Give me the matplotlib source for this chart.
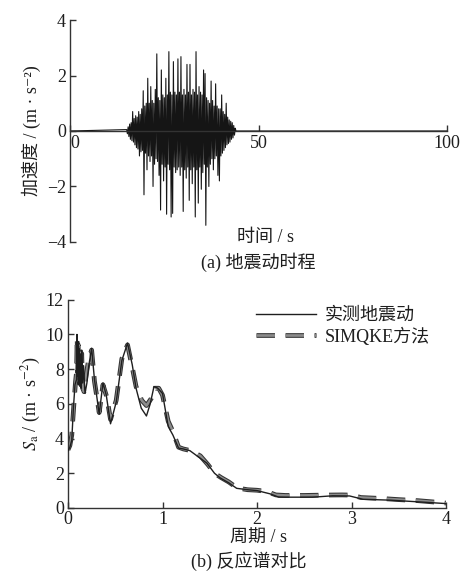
import numpy as np
import matplotlib
matplotlib.use('Agg')
import matplotlib.pyplot as plt
import matplotlib.patheffects as pe

plt.rcParams['font.family'] = ['Liberation Serif', 'Noto Sans CJK SC', 'DejaVu Serif']
plt.rcParams['mathtext.fontset'] = 'stix'
plt.rcParams['axes.unicode_minus'] = True

# --- (a) acceleration time history, samples every 0.2 s from 15 s to 44 s ---
burst_start, burst_dt = 15.0, 0.2
accel_burst = [
    0.05, -0.1, 0.15, -0.2, 0.25, -0.3, 0.3, -0.35, 0.7, -0.4,
    0.45, -0.5, 0.55, -0.6, 0.5, -0.65, 0.7, -0.9, 0.6, -0.75,
    0.8, -0.7, 1.45, -2.3, 0.9, -0.8, 1.0, -1.4, 1.9, -0.9,
    1.0, -1.1, 1.6, -0.9, 1.1, -2.0, 1.0, -1.2, 1.5, -1.0,
    2.78, -1.1, 1.2, -1.6, 1.1, -2.85, 2.2, -1.2, 1.3, -1.8,
    1.2, -1.3, 1.9, -3.0, 1.3, -1.2, 2.86, -1.4, 1.4, -3.1,
    1.3, -2.97, 2.5, -1.3, 1.4, -1.5, 1.3, -1.4, 2.6, -1.3,
    1.4, -1.6, 2.68, -1.3, 1.3, -2.9, 1.5, -1.4, 1.3, -1.7,
    2.4, -1.3, 1.4, -2.5, 2.4, -1.4, 1.3, -1.9, 1.5, -1.3,
    1.4, -3.1, 2.86, -1.4, 1.3, -2.6, 1.6, -1.3, 1.4, -2.1,
    1.3, -1.5, 2.2, -1.2, 2.07, -3.4, 1.2, -1.3, 1.1, -2.0,
    1.0, -1.2, 1.8, -1.0, 1.1, -1.4, 0.9, -1.0, 1.7, -0.9,
    0.9, -1.6, 0.8, -1.8, 0.8, -0.9, 1.3, -0.8, 0.7, -0.7,
    0.6, -0.6, 1.0, -0.5, 0.5, -0.45, 0.4, -0.4, 0.35, -0.3,
    0.3, -0.25, 0.2, -0.15, 0.1, 0.0,
]
t_burst = burst_start + burst_dt * np.arange(len(accel_burst))
t_hist = np.concatenate([[0.0], t_burst, [100.0]])
a_hist = np.concatenate([[0.0], accel_burst, [0.0]])

# --- (b) response spectra ---
T_meas = [0.0, 0.02, 0.04, 0.056, 0.074, 0.09, 0.095, 0.10, 0.105, 0.11, 0.115,
          0.12, 0.125, 0.13, 0.135, 0.14, 0.145, 0.155, 0.165, 0.18, 0.2,
          0.22, 0.25, 0.28, 0.33, 0.37, 0.405, 0.45, 0.51, 0.57, 0.63,
          0.68, 0.72, 0.775, 0.83, 0.87, 0.91, 0.95, 1.0, 1.06, 1.11,
          1.17, 1.22, 1.29, 1.39, 1.47, 1.55, 1.61, 1.7, 1.785, 1.9,
          2.0, 2.14, 2.23, 2.4, 2.59, 2.8, 2.98, 3.12, 3.4, 3.65, 3.8, 4.0]
Sa_meas = [3.3, 3.5, 3.9, 5.65, 7.1, 7.4, 10.0, 7.6, 9.6, 7.1, 9.2,
           7.3, 8.9, 7.0, 8.6, 6.9, 9.1, 7.2, 8.2, 6.6, 7.2,
           8.2, 9.2, 7.4, 5.4, 7.2, 6.5, 4.85, 6.1, 8.5, 9.5,
           8.25, 6.9, 5.75, 5.3, 6.0, 7.0, 6.9, 6.6, 4.7, 4.2,
           3.45, 3.4, 3.3, 2.9, 2.58, 2.0, 1.73, 1.45, 1.13, 1.05,
           1.0, 0.81, 0.62, 0.62, 0.62, 0.7, 0.69, 0.5, 0.45, 0.37, 0.32, 0.25]
T_sim = [0.0, 0.02, 0.04, 0.06, 0.08, 0.09, 0.097, 0.103, 0.108, 0.113, 0.118,
         0.124, 0.13, 0.137, 0.145, 0.155, 0.17, 0.19, 0.22, 0.25, 0.28,
         0.33, 0.37, 0.41, 0.45, 0.51, 0.57, 0.63, 0.68, 0.72, 0.78,
         0.83, 0.88, 0.92, 0.96, 1.0, 1.06, 1.11, 1.17, 1.22, 1.3,
         1.4, 1.48, 1.55, 1.62, 1.7, 1.79, 1.9, 2.0, 2.1, 2.2,
         2.3, 2.5, 2.7, 2.9, 3.0, 3.1, 3.3, 3.5, 3.7, 3.9, 4.0]
Sa_sim = [3.35, 3.6, 4.2, 5.8, 7.3, 7.8, 9.8, 7.8, 9.4, 7.3, 9.0,
          7.2, 8.7, 7.1, 8.9, 6.9, 6.7, 7.6, 8.6, 9.1, 7.3,
          5.5, 7.1, 6.4, 5.1, 6.2, 8.6, 9.4, 8.1, 7.0, 6.2,
          5.9, 6.3, 6.9, 6.9, 6.5, 5.0, 4.4, 3.5, 3.4, 3.3,
          3.0, 2.5, 2.0, 1.75, 1.5, 1.15, 1.05, 1.02, 0.95, 0.75,
          0.72, 0.72, 0.74, 0.75, 0.74, 0.6, 0.55, 0.48, 0.42, 0.33, 0.28]

fig = plt.figure(figsize=(4.61, 5.72), dpi=100)
ink = '#1e1e1e'
fs = 13

# ---------- (a) ----------
ax1 = fig.add_axes([0.152, 0.577, 0.818, 0.388])
ax1.plot(t_hist, a_hist, color='#151515', lw=0.8)
ax1.set_xlim(0, 100)
ax1.set_ylim(-4, 4)
ax1.spines['top'].set_visible(False)
ax1.spines['right'].set_visible(False)
ax1.spines['bottom'].set_position(('data', 0))
for s in ['left', 'bottom']:
    ax1.spines[s].set_color('#333333')
    ax1.spines[s].set_linewidth(1.0)
ax1.set_xticks([0, 50, 100])
ax1.set_yticks([-4, -2, 0, 2, 4])
ax1.tick_params(direction='in', length=4, width=1.0, colors='#333333',
                labelsize=fs, labelcolor=ink)
ax1.tick_params(axis='x', pad=3)
ax1.tick_params(axis='y', pad=3)
ax1.get_xticklabels()[0].set_horizontalalignment('left')
ax1.set_ylabel('加速度 / (m · s⁻²)', fontsize=fs, color=ink, labelpad=4)
fig.text(0.575, 0.584, '时间 / s', ha='center', va='center', fontsize=fs, color=ink)
fig.text(0.56, 0.542, '(a) 地震动时程', ha='center', va='center', fontsize=fs, color=ink)

# ---------- (b) ----------
ax2 = fig.add_axes([0.1475, 0.112, 0.820, 0.364])
ax2.plot(T_meas, Sa_meas, color=ink, lw=1.0, label='实测地震动', zorder=3)
ax2.plot(T_sim, Sa_sim, color='#8c8c8c', lw=1.9, linestyle=(0, (7, 4)),
         label='SIMQKE方法', zorder=2,
         path_effects=[pe.Stroke(linewidth=3.4, foreground='#333333'), pe.Normal()])
ax2.set_xlim(0, 4)
ax2.set_ylim(0, 12)
ax2.spines['top'].set_visible(False)
ax2.spines['right'].set_visible(False)
for s in ['left', 'bottom']:
    ax2.spines[s].set_color('#333333')
    ax2.spines[s].set_linewidth(1.0)
ax2.set_xticks([0, 1, 2, 3, 4])
ax2.set_yticks([0, 2, 4, 6, 8, 10, 12])
ax2.tick_params(direction='in', length=4, width=1.0, colors='#333333',
                labelsize=fs, labelcolor=ink)
ax2.tick_params(axis='x', pad=2)
ax2.tick_params(axis='y', pad=3)
ax2.set_ylabel(r'$S_{\rm a}$ / (m · s$^{-2}$)', fontsize=fs, color=ink, labelpad=2)
ax2.legend(loc='upper right', bbox_to_anchor=(0.976, 1.0), frameon=False,
           fontsize=fs, handlelength=3.3, handletextpad=0.5, labelspacing=0.2,
           borderaxespad=0.0, labelcolor=ink)
fig.text(0.56, 0.058, '周期 / s', ha='center', va='center', fontsize=fs, color=ink)
fig.text(0.54, 0.019, '(b) 反应谱对比', ha='center', va='center', fontsize=fs, color=ink)

fig.savefig('out.png', dpi=100)
